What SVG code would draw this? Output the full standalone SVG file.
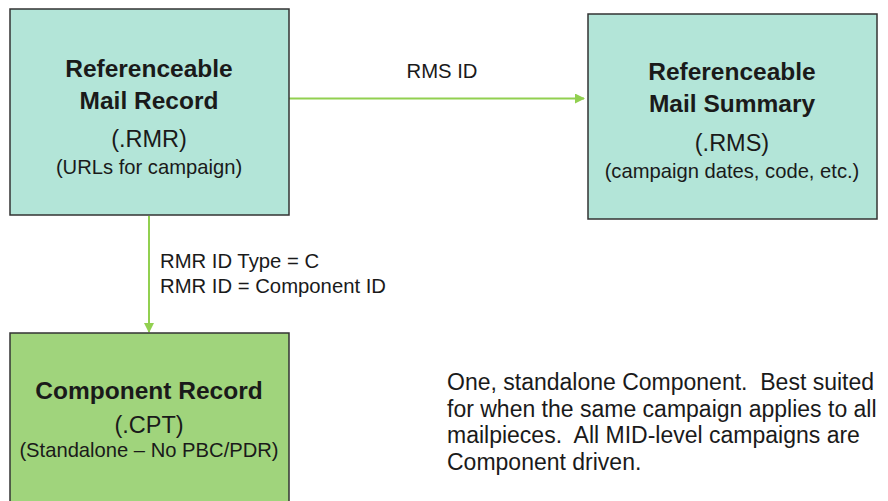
<svg xmlns="http://www.w3.org/2000/svg" width="888" height="501" viewBox="0 0 888 501">
  <defs>
    <marker id="arrow" viewBox="0 0 10 10" refX="9" refY="5" markerWidth="5" markerHeight="5" orient="auto" markerUnits="strokeWidth">
      <path d="M0,0 L10,5 L0,10 z" fill="#92d050"/>
    </marker>
    <style>
      .box { stroke: #333333; stroke-width: 1.5; }
      .teal { fill: #b3e5d8; }
      .green { fill: #a0d47c; }
      .t { font-family: "Liberation Sans", Arial, sans-serif; fill: #1a1a1a; text-anchor: middle; }
      .title { font-size: 24.5px; font-weight: bold; }
      .ext { font-size: 23.5px; }
      .sub { font-size: 20.2px; }
      .lbl { font-family: "Liberation Sans", Arial, sans-serif; font-size: 20.3px; fill: #1a1a1a; }
      .note { font-family: "Liberation Sans", Arial, sans-serif; font-size: 23px; fill: #1a1a1a; white-space: pre; }
      .conn { stroke: #92d050; stroke-width: 2; fill: none; marker-end: url(#arrow); }
    </style>
  </defs>

  <!-- Connectors -->
  <g id="connectors">
    <line class="conn" x1="289" y1="98.5" x2="584" y2="98.5"/>
    <line class="conn" x1="149" y1="216" x2="149" y2="332"/>
    <text class="lbl" x="442" y="78" text-anchor="middle">RMS ID</text>
    <text class="lbl" x="160" y="268">RMR ID Type = C</text>
    <text class="lbl" x="160" y="293">RMR ID = Component ID</text>
  </g>

  <!-- Referenceable Mail Record -->
  <g id="rmr">
    <rect class="box teal" x="10" y="9" width="279" height="206"/>
    <text class="t title" x="149" y="77">Referenceable</text>
    <text class="t title" x="149" y="109">Mail Record</text>
    <text class="t ext" x="149" y="147">(.RMR)</text>
    <text class="t sub" x="149" y="174">(URLs for campaign)</text>
  </g>

  <!-- Referenceable Mail Summary -->
  <g id="rms">
    <rect class="box teal" x="588" y="14" width="289" height="205"/>
    <text class="t title" x="732" y="80">Referenceable</text>
    <text class="t title" x="732" y="112">Mail Summary</text>
    <text class="t ext" x="732" y="151">(.RMS)</text>
    <text class="t sub" x="732" y="178">(campaign dates, code, etc.)</text>
  </g>

  <!-- Component Record -->
  <g id="cpt">
    <rect class="box green" x="10" y="333" width="279" height="180"/>
    <text class="t title" x="149" y="399">Component Record</text>
    <text class="t ext" x="149" y="433">(.CPT)</text>
    <text class="t sub" x="149" y="457">(Standalone – No PBC/PDR)</text>
  </g>

  <!-- Note -->
  <g id="note">
    <text class="note" x="447" y="390">One, standalone Component.  Best suited</text>
    <text class="note" x="447" y="416.5">for when the same campaign applies to all</text>
    <text class="note" x="447" y="443">mailpieces.  All MID-level campaigns are</text>
    <text class="note" x="447" y="469.5">Component driven.</text>
  </g>
</svg>
